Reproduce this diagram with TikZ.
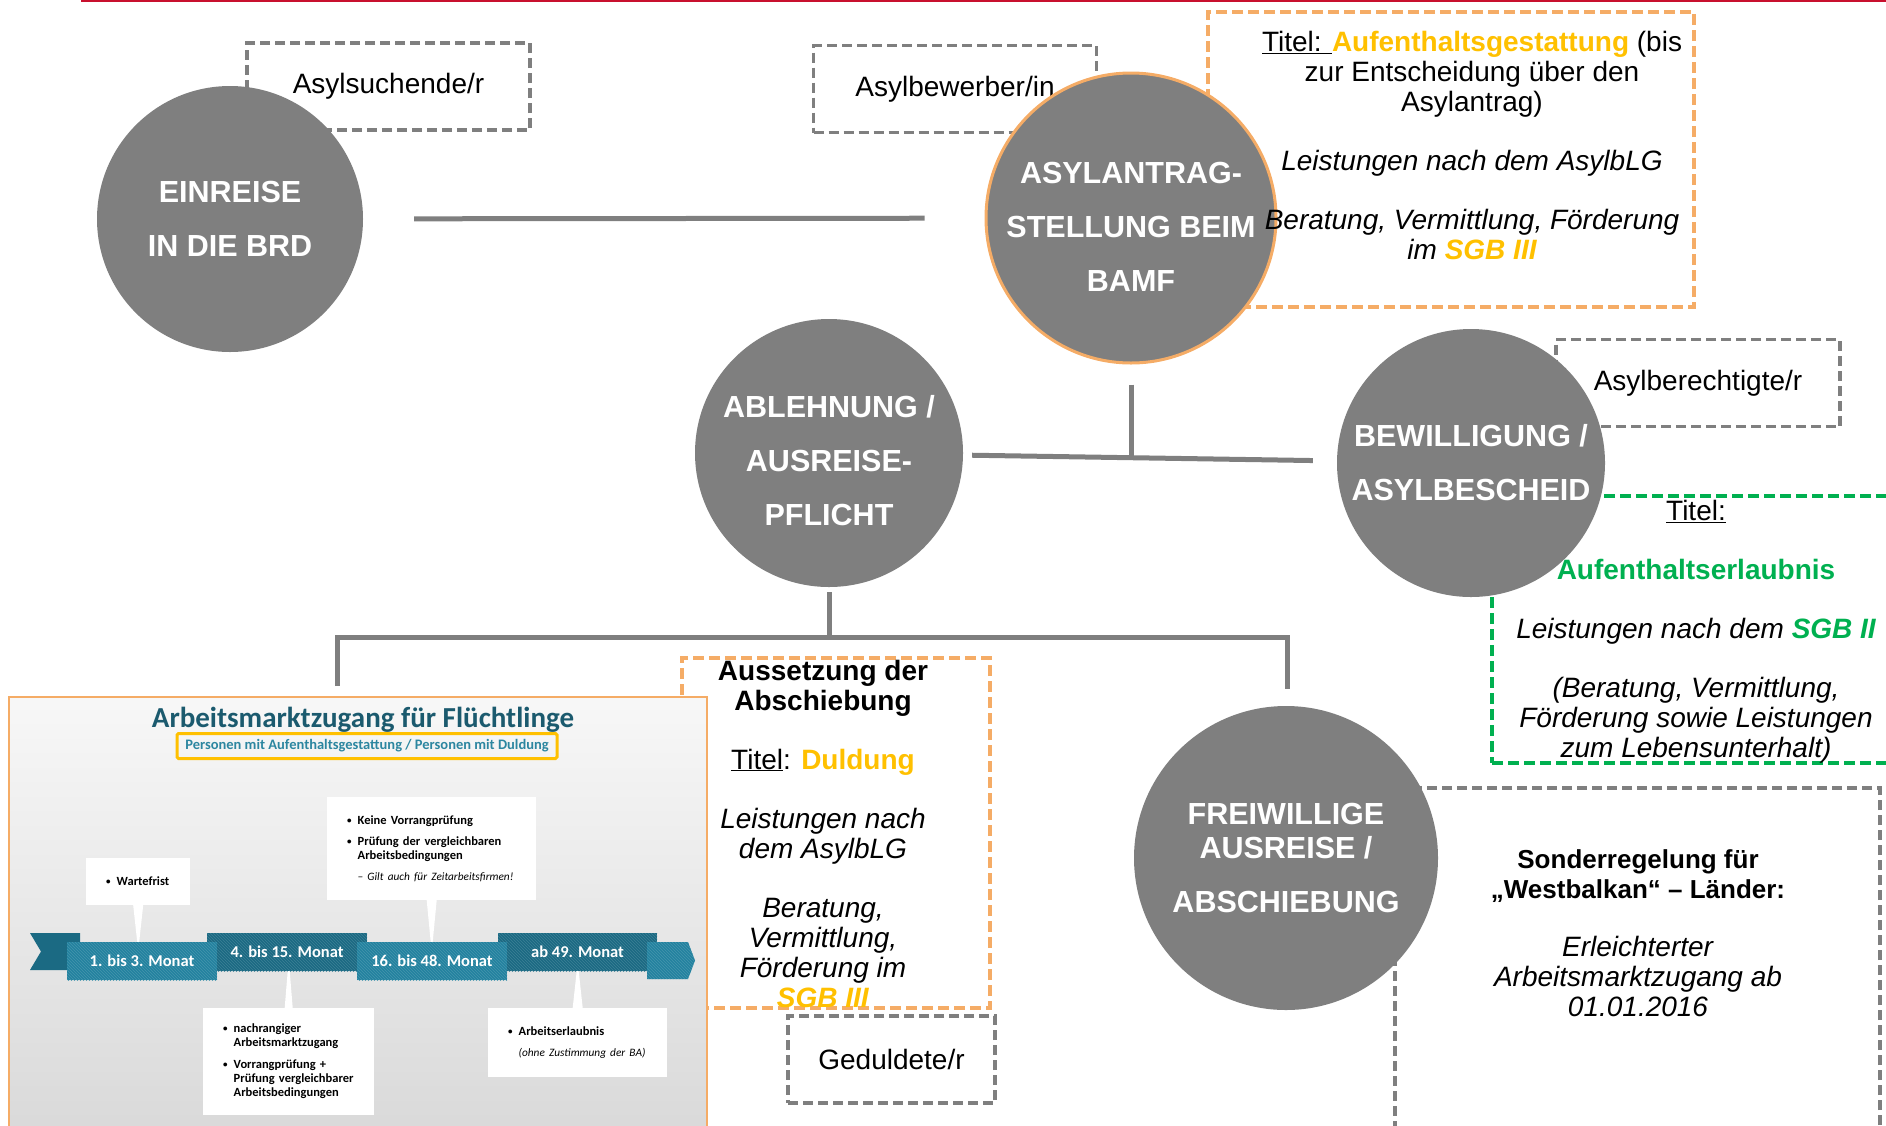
\documentclass[tikz,border=0pt]{standalone}
\usepackage{fontspec}
\setmainfont{Liberation Sans}
\newfontfamily\calfont{Carlito}
\usetikzlibrary{patterns}

\definecolor{bubblegray}{HTML}{7F7F7F}
\definecolor{lightorange}{HTML}{F5AC66}
\definecolor{gold}{HTML}{FFC000}
\definecolor{okgreen}{HTML}{00B050}
\definecolor{topred}{HTML}{C8102E}
\definecolor{tealtitle}{HTML}{1B5A6E}
\definecolor{tealsub}{HTML}{2C86A0}
\definecolor{banddark}{HTML}{1B6A83}
\definecolor{bandlight}{HTML}{23829F}

\newcommand{\bul}{\makebox[10.5pt][l]{\raisebox{1pt}{\fontsize{9}{9}\selectfont\textbullet}}}
\newcommand{\note}[1]{\mbox{\mdseries\itshape\fontsize{11.3}{14}\selectfont #1}}

\begin{document}
\begin{tikzpicture}[x=1pt,y=-1pt,
		node_style/.style={circle,fill=bubblegray,inner sep=0pt},
		bubble_text/.style={text=white,align=center,inner sep=0pt,font=\fontsize{30.5}{54}\selectfont\bfseries},
		tag_style/.style={draw=bubblegray,line width=3.5pt,dash pattern=on 10pt off 5pt,minimum width=283pt,minimum height=87pt,inner sep=0pt,font=\fontsize{28}{30}\selectfont},
		info_style/.style={line width=3.5pt,dash pattern=on 11pt off 5pt,inner sep=0pt},
		info_text/.style={align=center,inner sep=0pt,anchor=north,font=\fontsize{28}{30}\selectfont},
		edge_style/.style={draw=bubblegray,line width=5pt},
		band_base/.style={minimum height=38pt,inner sep=0pt,text=white,font=\calfont\bfseries\fontsize{16.5}{18}\selectfont},
		band_dark/.style={band_base,fill=banddark,postaction={pattern=north west lines,pattern color=banddark!85!white}},
		band_light/.style={band_base,fill=bandlight,postaction={pattern=north west lines,pattern color=bandlight!85!white}},
		callout/.style={fill=white,align=left,anchor=west,inner xsep=20pt,inner ysep=0pt,font=\calfont\bfseries\fontsize{12.5}{14}\selectfont}]

		\useasboundingbox (0,0) rectangle (1886,1125);
		\clip (0,0) rectangle (1886,1125);

		\draw[topred,line width=2.5pt] (81,1.2) -- (1886,1.2);

		% dashed boxes
		\node[tag_style] (suchende) at (388.5,86.5) {Asylsuchende/r};
		\node[tag_style] (bewerber) at (955,89) {Asylbewerber/in};
		\node[tag_style,minimum width=284pt] (berechtigte) at (1698,383) {Asylberechtigte/r};
		\node[tag_style,minimum width=207pt] (geduldete) at (891.5,1059.5) {Geduldete/r};

		\node[info_style,draw=lightorange,minimum width=486pt,minimum height=295pt] (gestattung) at (1451,159.5) {};
		\node[info_style,draw=lightorange,minimum width=308pt,minimum height=350pt] (duldung) at (836,833) {};
		\node[info_style,draw=okgreen,minimum width=408pt,minimum height=267pt] (erlaubnis) at (1696,629.5) {};
		\node[info_style,draw=bubblegray,dash pattern=on 10pt off 5pt,minimum width=485pt,minimum height=362pt] (westbalkan) at (1637.5,969) {};

		% circles
		\node[node_style,minimum size=266pt] (einreise) at (230,219) {};
		\node[node_style,minimum size=290pt,draw=lightorange,line width=3pt] (antrag) at (1131,218) {};
		\node[node_style,minimum size=268pt] (ablehnung) at (829,453) {};
		\node[node_style,minimum size=268pt] (bewilligung) at (1471,463) {};
		\node[node_style,minimum size=304pt] (ausreise) at (1286,858) {};

		\node[bubble_text] at (einreise) {EINREISE\\IN DIE BRD};
		\node[bubble_text] at ([yshift=-9pt]antrag.center) {ASYLANTRAG-\\STELLUNG BEIM\\BAMF};
		\node[bubble_text] at ([yshift=-8pt]ablehnung.center) {ABLEHNUNG /\\AUSREISE-\\PFLICHT};
		\node[bubble_text] at (bewilligung) {BEWILLIGUNG /\\ASYLBESCHEID};
		\node[bubble_text] at (ausreise) {FREIWILLIGE\\[-20pt]AUSREISE /\\ABSCHIEBUNG};

		% connectors
		\coordinate (split) at (1131,460);
		\coordinate (fork) at (829,637);
		\coordinate (drop_left) at (337,686);
		\coordinate (drop_right) at (1287,689);

		\draw[edge_style,shorten <=51pt,shorten >=60pt] (einreise) -- (antrag);
		\draw[edge_style,shorten <=20pt] (antrag) -- (split);
		\draw[edge_style,shorten <=9pt,shorten >=24pt] (ablehnung) -- (bewilligung);
		\draw[edge_style,shorten <=5pt] (ablehnung) -- (ablehnung |- fork);
		\draw[edge_style] (drop_left) -- (drop_left |- fork) -- (drop_right |- fork) -- (drop_right);

		% box texts
		\node[info_text] (gestattung_text) at (1472,31.5) {\underline{Titel: }\textcolor{gold}{\textbf{Aufenthaltsgestattung}} (bis\\
			zur Entscheidung über den\\ Asylantrag)\\[29pt]
			\textit{Leistungen nach dem AsylbLG}\\[29pt]
			\textit{Beratung, Vermittlung, Förderung}\\
			\textit{im \textcolor{gold}{\textbf{SGB III}}}};
		\node[info_text] (duldung_text) at (823,659.5) {\textbf{Aussetzung der}\\ \textbf{Abschiebung}\\[29pt]
			\underline{Titel}: \textcolor{gold}{\textbf{Duldung}}\\[29pt]
			\textit{Leistungen nach}\\ \textit{dem AsylbLG}\\[29pt]
			\textit{Beratung,}\\ \textit{Vermittlung,}\\ \textit{Förderung im}\\
			\textcolor{gold}{\textbf{\textit{SGB III}}}};
		\node[info_text] (erlaubnis_text) at (1696,500) {\underline{Titel:}\\[29pt]
			\textcolor{okgreen}{\textbf{Aufenthaltserlaubnis}}\\[29pt]
			\textit{Leistungen nach dem \textcolor{okgreen}{\textbf{SGB II}}}\\[29pt]
			\textit{(Beratung, Vermittlung,}\\ \textit{Förderung sowie Leistungen}\\ \textit{zum Lebensunterhalt)}};
		\node[info_text] (westbalkan_text) at (1638,849) {{\fontsize{26}{30}\selectfont\bfseries Sonderregelung für}\\
			{\fontsize{26}{30}\selectfont\bfseries „Westbalkan“ – Länder:}\\[28pt]
			\textit{Erleichterter}\\ \textit{Arbeitsmarktzugang ab}\\ \textit{01.01.2016}};

		% Arbeitsmarktzugang picture
		\shade[top color=gray!6,bottom color=gray!30,draw=lightorange,line width=2.5pt] (9,697) rectangle (707,1140);
		\node[font=\calfont\bfseries\fontsize{29}{31}\selectfont,text=tealtitle,anchor=base] (ak_title) at (363,727) {Arbeitsmarktzugang für Flüchtlinge};
		\node[draw=gold,line width=3pt,rounded corners=1.5pt,minimum width=380pt,minimum height=25pt,inner sep=0pt,text=tealsub,font=\calfont\bfseries\fontsize{14.5}{16}\selectfont] (ak_sub) at (367,746) {Personen mit Aufenthaltsgestattung / Personen mit Duldung};

		\fill[banddark] (30,933) -- (80,933) -- (80,970) -- (30,970) -- (41,951.5) -- cycle;
		\node[band_dark,minimum width=160pt] (month2) at (287,952) {4. bis 15. Monat};
		\node[band_dark,minimum width=159pt] (month4) at (577.5,952) {ab 49. Monat};
		\fill[bandlight,postaction={pattern=north west lines,pattern color=bandlight!85!white}] (647,942) -- (688,942) -- (695,960.5) -- (688,979) -- (647,979) -- cycle;
		\node[band_light,minimum width=150pt] (month1) at (142,961) {1. bis 3. Monat};
		\node[band_light,minimum width=150pt] (month3) at (432,961) {16. bis 48. Monat};

		\node[callout,text width=64pt,minimum height=47pt] (wartefrist) at (86,881.5) {\bul Wartefrist};
		\node[callout,text width=169pt,minimum height=103pt] (keine) at (327,848.5) {\bul Keine Vorrangprüfung\\[7pt]
			\bul Prüfung der vergleichbaren\\ \hspace*{10.5pt}Arbeitsbedingungen\\[7pt]
			\hspace*{10.5pt}\note{– Gilt auch für Zeitarbeitsfirmen!}};
		\node[callout,text width=131pt,minimum height=107pt] (nachrangig) at (203,1061.5) {\bul nachrangiger\\ \hspace*{10.5pt}Arbeitsmarktzugang\\[8pt]
			\bul Vorrangprüfung +\\ \hspace*{10.5pt}Prüfung vergleichbarer\\ \hspace*{10.5pt}Arbeitsbedingungen};
		\node[callout,text width=139pt,minimum height=69pt] (erlaubt) at (488,1042.5) {\bul Arbeitserlaubnis\\[7pt]
			\hspace*{10.5pt}\note{(ohne Zustimmung der BA)}};

		\fill[white] ([xshift=-5pt]wartefrist.south) -- ([xshift=5pt]wartefrist.south) -- ([xshift=1pt]wartefrist.south |- month1.north) -- ([xshift=-1pt]wartefrist.south |- month1.north) -- cycle;
		\fill[white] ([xshift=-5pt]keine.south) -- ([xshift=5pt]keine.south) -- ([xshift=1pt]keine.south |- month3.north) -- ([xshift=-1pt]keine.south |- month3.north) -- cycle;
		\fill[white] ([xshift=-4pt]nachrangig.north) -- ([xshift=4pt]nachrangig.north) -- ([xshift=1pt]nachrangig.north |- month2.south) -- ([xshift=-1pt]nachrangig.north |- month2.south) -- cycle;
		\fill[white] ([xshift=-5pt]erlaubt.north) -- ([xshift=5pt]erlaubt.north) -- ([xshift=1pt]erlaubt.north |- month4.south) -- ([xshift=-1pt]erlaubt.north |- month4.south) -- cycle;

\end{tikzpicture}
\end{document}
